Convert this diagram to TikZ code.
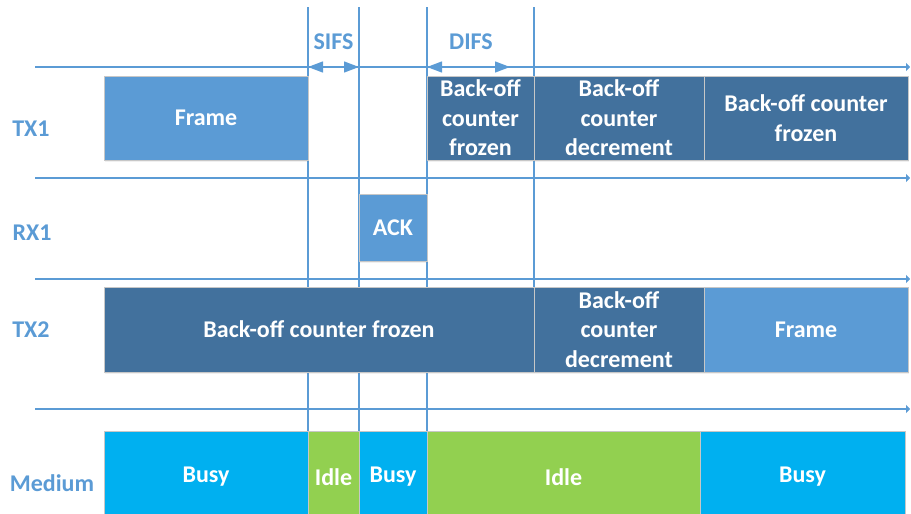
\documentclass[tikz,border=0pt]{standalone}
\usepackage{fontspec}
\setmainfont{Carlito}
\usetikzlibrary{arrows.meta,shadows}

\definecolor{lineblue}{RGB}{91,155,213}
\definecolor{darkslot}{RGB}{66,113,157}
\definecolor{busycyan}{RGB}{0,176,240}
\definecolor{idlegreen}{RGB}{146,208,80}

\tikzset{
  timeline/.style={lineblue, line width=1.3pt, -{Triangle[length=4pt,width=8pt]}},
  marker/.style={lineblue, line width=1.3pt},
  gap/.style={lineblue, line width=1.3pt,
    {Triangle[length=15pt,width=11pt]}-{Triangle[length=15pt,width=11pt]}},
  slot/.style={draw=black!22, line width=0.8pt, text=white, align=center,
    inner sep=0pt, font=\bfseries\fontsize{24}{29.5}\selectfont,
    drop shadow={opacity=0.12, shadow xshift=1pt, shadow yshift=-2pt}},
  txframe/.style={slot, fill=lineblue},
  backoff/.style={slot, fill=darkslot},
  busy/.style={slot, fill=busycyan},
  idle/.style={slot, fill=idlegreen},
  rowlabel/.style={lineblue, font=\bfseries\fontsize{24}{28}\selectfont},
}

\begin{document}
\begin{tikzpicture}[x=1pt,y=-1pt]
  \useasboundingbox (0,0) rectangle (911,514);

  % time axes
  \foreach \y/\n in {67/ax1,178/ax2,279/ax3,409/ax4}{
    \coordinate (\n) at (35,\y);
    \coordinate (\n end) at (910,\y);
    \draw[timeline] (\n) -- (\n end);
  }

  % slot boundaries
  \foreach \x/\n in {308/v1,359/v2,427/v3}{
    \coordinate (\n) at (\x,7);
    \coordinate (\n bot) at (\x,431);
    \draw[marker] (\n) -- (\n bot);
  }
  \coordinate (v4) at (534,7);
  \coordinate (v4 bot) at (534,290);
  \draw[marker] (v4) -- (v4 bot);

  % interframe spaces
  \coordinate (difs end) at (510,67);
  \draw[gap] (v1 |- ax1) -- (v2 |- ax1);
  \draw[gap] (v3 |- ax1) -- (difs end);
  \node[rowlabel] (sifs) at (333.5,42) {SIFS};
  \node[rowlabel] (difs) at (471,42) {DIFS};

  % row names
  \node[rowlabel] (tx1) at (31,129) {TX1};
  \node[rowlabel] (rx1) at (32,233) {RX1};
  \node[rowlabel] (tx2) at (31,330) {TX2};
  \node[rowlabel] (medium) at (52,483) {Medium};

  % TX1
  \node[txframe, minimum width=204, minimum height=84] (tx1frame) at (206,118) {Frame};
  \node[backoff, minimum width=107, minimum height=84] (tx1froz) at (480.5,118) {Back-off\\counter\\frozen};
  \node[backoff, minimum width=170, minimum height=84] (tx1dec) at (619,118) {Back-off\\counter\\decrement};
  \node[backoff, minimum width=204, minimum height=84] (tx1froz2) at (806,118) {Back-off counter\\frozen};

  % RX1
  \node[txframe, minimum width=68, minimum height=67] (ack) at (393,227.5) {ACK};

  % TX2
  \node[backoff, minimum width=430, minimum height=85] (tx2froz) at (319,329.5) {Back-off counter frozen};
  \node[backoff, minimum width=170, minimum height=85] (tx2dec) at (619,329.5) {Back-off\\counter\\decrement};
  \node[txframe, minimum width=204, minimum height=85] (tx2frame) at (806,329.5) {Frame};

  % medium state
  \node[busy, minimum width=204, minimum height=92] (m1) at (206,477) {Busy};
  \node[idle, minimum width=51, minimum height=92] (m2) at (333.5,477) {Idle};
  \node[busy, minimum width=68, minimum height=92] (m3) at (393,477) {Busy};
  \node[idle, minimum width=273, minimum height=92] (m4) at (563.5,477) {Idle};
  \node[busy, minimum width=205, minimum height=92] (m5) at (802.5,477) {Busy};
\end{tikzpicture}
\end{document}
